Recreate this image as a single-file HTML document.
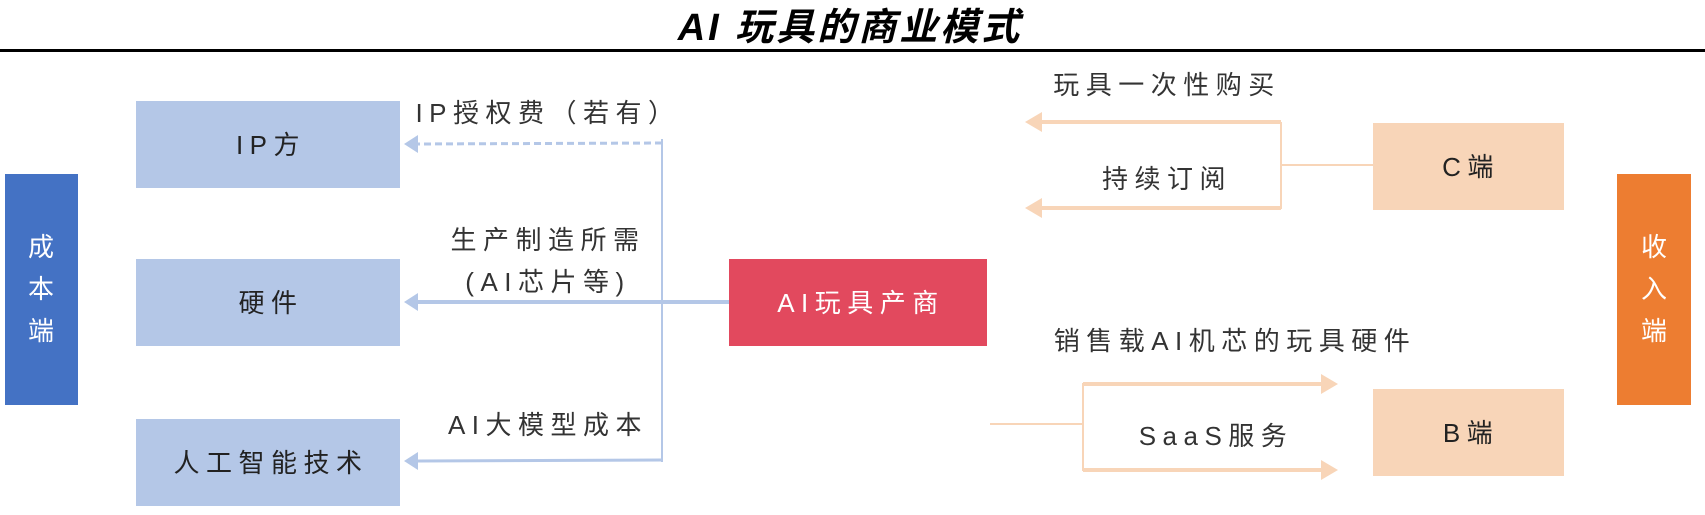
<!DOCTYPE html>
<html><head><meta charset="utf-8"><style>
html,body{margin:0;padding:0;background:#fff;}
svg{display:block;font-family:"Liberation Sans","Noto Sans CJK SC",sans-serif;}
svg text.l{font-size:26px;letter-spacing:6.5px;}
</style></head><body>
<svg width="1705" height="515" viewBox="0 0 1705 515" xmlns="http://www.w3.org/2000/svg">
<text x="850" y="40" font-size="38" font-weight="bold" font-style="italic" text-anchor="middle" letter-spacing="3" fill="#000">AI 玩具的商业模式</text>
<rect x="0" y="49" width="1705" height="3" fill="#000"/>

<rect x="5" y="174" width="73" height="231" fill="#4472C4"/>
<text x="41" y="256" font-size="26" fill="#fff" text-anchor="middle">成</text>
<text x="41" y="298" font-size="26" fill="#fff" text-anchor="middle">本</text>
<text x="41" y="340" font-size="26" fill="#fff" text-anchor="middle">端</text>

<rect x="1617" y="174" width="74" height="231" fill="#ED7D31"/>
<text x="1654" y="256" font-size="26" fill="#fff" text-anchor="middle">收</text>
<text x="1654" y="298" font-size="26" fill="#fff" text-anchor="middle">入</text>
<text x="1654" y="340" font-size="26" fill="#fff" text-anchor="middle">端</text>

<rect x="136" y="101" width="264" height="87" fill="#B4C7E7"/>
<text class="l" x="271" y="154" text-anchor="middle" fill="#222">IP方</text>
<rect x="136" y="259" width="264" height="87" fill="#B4C7E7"/>
<text class="l" x="271" y="312" text-anchor="middle" fill="#222">硬件</text>
<rect x="136" y="419" width="264" height="87" fill="#B4C7E7"/>
<text class="l" x="271" y="472" text-anchor="middle" fill="#222">人工智能技术</text>

<rect x="729" y="259" width="258" height="87" fill="#E2495E"/>
<text class="l" x="861" y="312" text-anchor="middle" fill="#fff">AI玩具产商</text>

<line x1="662" y1="139" x2="662" y2="462" stroke="#B4C7E7" stroke-width="2"/>
<line x1="662" y1="143" x2="418" y2="144" stroke="#B4C7E7" stroke-width="3" stroke-dasharray="7,4"/>
<polygon points="404,144 418,135 418,153" fill="#B4C7E7"/>
<line x1="729" y1="302" x2="418" y2="302" stroke="#B4C7E7" stroke-width="4"/>
<polygon points="404,302 418,293 418,311" fill="#B4C7E7"/>
<line x1="662" y1="460" x2="418" y2="461" stroke="#B4C7E7" stroke-width="3"/>
<polygon points="404,461 418,452 418,470" fill="#B4C7E7"/>
<text class="l" x="548" y="122" text-anchor="middle" fill="#333">IP授权费（若有）</text>
<text class="l" x="548" y="249" text-anchor="middle" fill="#333">生产制造所需</text>
<text class="l" x="548" y="291" text-anchor="middle" fill="#333">(AI芯片等)</text>
<text class="l" x="548" y="434" text-anchor="middle" fill="#333">AI大模型成本</text>

<rect x="1373" y="123" width="191" height="87" fill="#F8D5B8"/>
<text class="l" x="1471" y="176" text-anchor="middle" fill="#222">C端</text>
<rect x="1373" y="389" width="191" height="87" fill="#F8D5B8"/>
<text class="l" x="1471" y="442" text-anchor="middle" fill="#222">B端</text>

<line x1="1281" y1="122" x2="1281" y2="209" stroke="#F8D5B8" stroke-width="2"/>
<line x1="1281" y1="165" x2="1373" y2="165" stroke="#F8D5B8" stroke-width="2"/>
<line x1="1281" y1="122" x2="1040" y2="122" stroke="#F8D5B8" stroke-width="4"/>
<polygon points="1025,122 1042,112 1042,132" fill="#F8D5B8"/>
<line x1="1281" y1="208" x2="1040" y2="208" stroke="#F8D5B8" stroke-width="4"/>
<polygon points="1025,208 1042,198 1042,218" fill="#F8D5B8"/>
<text class="l" x="1167" y="94" text-anchor="middle" fill="#333">玩具一次性购买</text>
<text class="l" x="1167" y="188" text-anchor="middle" fill="#333">持续订阅</text>

<line x1="990" y1="424" x2="1083" y2="424" stroke="#F8D5B8" stroke-width="2"/>
<line x1="1083" y1="383" x2="1083" y2="471" stroke="#F8D5B8" stroke-width="2"/>
<line x1="1083" y1="384" x2="1322" y2="384" stroke="#F8D5B8" stroke-width="4"/>
<polygon points="1338,384 1321,374 1321,394" fill="#F8D5B8"/>
<line x1="1083" y1="470" x2="1322" y2="470" stroke="#F8D5B8" stroke-width="4"/>
<polygon points="1338,470 1321,460 1321,480" fill="#F8D5B8"/>
<text class="l" x="1235" y="350" text-anchor="middle" fill="#333">销售载AI机芯的玩具硬件</text>
<text class="l" x="1216" y="445" text-anchor="middle" fill="#333">SaaS服务</text>
</svg>
</body></html>
